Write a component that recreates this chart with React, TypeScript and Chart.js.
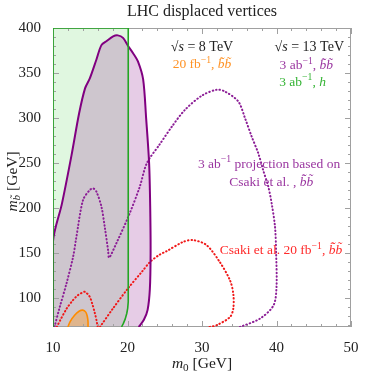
import React, { useEffect, useRef } from "react";
import { Chart, registerables } from "chart.js";

Chart.register(...registerables);

// ---------- data ----------
const xTicks = [10, 20, 30, 40, 50];
const yTicks = [100, 150, 200, 250, 300, 350, 400];

// 13 TeV, 3 ab^-1, h  (green region)
const greenX = [19.2, 19.45, 19.7, 19.9, 20.03, 20.1, 20.1, 10, 10];
const greenY = [68, 72, 77, 83, 89, 96, 400, 400, 68];

// 13 TeV, 3 ab^-1, bb (purple solid region)
const purpleX = [10, 10, 11.2, 12.47, 13.5, 14.3, 14.94, 15.83, 16.5, 17.2, 18.07, 18.7, 19.4, 20.08, 20.75, 21.4, 22.1, 22.5, 22.9, 23.05, 23.1, 23.0, 22.7, 22.2, 21.5];
const purpleY = [68, 163, 205, 258, 305, 333, 344, 365, 381, 385.5, 390.7, 391.8, 389, 380, 372, 363, 343, 300, 250, 200, 150, 110, 87, 76, 68];

// 8 TeV, 20 fb^-1, bb (orange region)
const orangeX = [12.0, 12.3, 12.9, 13.5, 14.0, 14.4, 14.6, 14.7, 14.7];
const orangeY = [68, 74, 81, 85.5, 86.7, 84.5, 80, 74, 68];

// Csaki et al. 20 fb^-1 (red dotted, two pieces)
const redSmallX = [10.5, 11.0, 11.8, 12.6, 13.3, 14.0, 14.3, 14.9, 15.3, 15.6, 15.85, 16.0];
const redSmallY = [68, 76, 88, 97, 103, 106.5, 107, 102, 93, 84, 75, 68];
const redBigX = [16.3, 18.0, 20.08, 22.0, 23.0, 24.25, 25.2, 27.5, 28.8, 30.6, 32.4, 33.75, 34.2, 34.2, 33.75, 31.96, 31.0];
const redBigY = [68, 88, 111, 130, 140, 148, 152, 162.6, 164.5, 159, 140, 120, 105, 88.5, 79, 70, 68];

// 3 ab^-1 projection based on Csaki et al. (purple dotted)
const projX = [10.2, 10.9, 11.8, 12.7, 13.1, 14.03, 14.93, 15.38, 15.83, 16.5, 16.95, 17.4, 17.53, 18.5, 20.2, 21.65, 22.6, 24.25, 26.0, 27.7, 30.0, 31.96, 33.08, 34.87, 35.77, 36.67, 37.55, 38.2, 38.9, 39.35, 39.8, 39.95, 40.0, 39.6, 37.8, 35.1];
const projY = [68, 90, 116, 146, 166, 209, 220, 222, 218.2, 201.6, 179, 153, 145, 160.9, 192.3, 223.8, 250, 270, 291, 309, 325, 331.4, 329.5, 318.4, 300, 279.4, 261, 242.4, 223.8, 205.3, 179.3, 150, 112.6, 92, 77.4, 68];

const COL_PURPLE = "#800080";
const COL_PURPLE_DOT = "#8c1e96";
const COL_GREEN = "#22a622";
const COL_ORANGE = "#ff8c00";
const COL_RED = "#f01818";

const FONT = '"Liberation Serif", "DejaVu Serif", serif';

const toPts = (xs: number[], ys: number[]) => xs.map((x, i) => ({ x, y: ys[i] }));

type Seg = { t: string; i?: boolean; sup?: boolean; sub?: boolean };
const BB = "b\u0303\u0304b\u0303";

// annotations (data coordinates)
const labels: { x: number; y: number; segs: Seg[]; color: string; size: number }[] = [
  { x: 30, y: 379, color: "#222", size: 14, segs: [{ t: "\u221A" }, { t: "s", i: true }, { t: " = 8 TeV" }] },
  { x: 30, y: 359, color: "#ff9326", size: 13.5, segs: [{ t: "20 fb" }, { t: "\u22121", sup: true }, { t: ", " }, { t: BB, i: true }] },
  { x: 44.4, y: 379, color: "#222", size: 14, segs: [{ t: "\u221A" }, { t: "s", i: true }, { t: " = 13 TeV" }] },
  { x: 44, y: 358, color: "#9a36a0", size: 13.5, segs: [{ t: "3 ab" }, { t: "\u22121", sup: true }, { t: ", " }, { t: BB, i: true }] },
  { x: 43.5, y: 340, color: "#33b333", size: 13.5, segs: [{ t: "3 ab" }, { t: "\u22121", sup: true }, { t: ", " }, { t: "h", i: true }] },
  { x: 39, y: 249, color: "#9a36a0", size: 13.5, segs: [{ t: "3 ab" }, { t: "\u22121", sup: true }, { t: " projection based on" }] },
  { x: 39.3, y: 229, color: "#9a36a0", size: 13.5, segs: [{ t: "Csaki et al. , " }, { t: BB, i: true }] },
  { x: 40.6, y: 153, color: "#ff2a2a", size: 13.5, segs: [{ t: "Csaki et al. 20 fb" }, { t: "\u22121", sup: true }, { t: ", " }, { t: BB, i: true }] },
];

const TITLE = "LHC displaced vertices";

function drawRich(ctx: CanvasRenderingContext2D, segs: Seg[], cx: number, cy: number, size: number, color: string) {
  const fontFor = (s: Seg) => `${s.i ? "italic " : ""}${s.sup || s.sub ? size * 0.72 : size}px ${FONT}`;
  let w = 0;
  segs.forEach((s) => {
    ctx.font = fontFor(s);
    w += ctx.measureText(s.t).width;
  });
  let x = cx - w / 2;
  ctx.fillStyle = color;
  ctx.textBaseline = "middle";
  ctx.textAlign = "left";
  segs.forEach((s) => {
    ctx.font = fontFor(s);
    const dy = s.sup ? -size * 0.33 : s.sub ? size * 0.28 : 0;
    ctx.fillText(s.t, x, cy + dy);
    x += ctx.measureText(s.t).width;
  });
}

const areaPlugin = {
  id: "areaFill",
  beforeDatasetsDraw(chart: any) {
    const ctx = chart.ctx as CanvasRenderingContext2D;
    const a = chart.chartArea;
    ctx.save();
    ctx.beginPath();
    ctx.rect(a.left, a.top, a.right - a.left, a.bottom - a.top);
    ctx.clip();
    chart.data.datasets.forEach((ds: any, i: number) => {
      if (!ds.areaColor) return;
      const meta = chart.getDatasetMeta(i);
      ctx.beginPath();
      if (meta.dataset && typeof meta.dataset.path === "function") {
        meta.dataset.path(ctx);
      } else {
        meta.data.forEach((p: any, j: number) => (j ? ctx.lineTo(p.x, p.y) : ctx.moveTo(p.x, p.y)));
      }
      ctx.closePath();
      ctx.fillStyle = ds.areaColor;
      ctx.fill();
    });
    ctx.restore();

    // frame + inward ticks
    const xs = chart.scales.x;
    const ys = chart.scales.y;
    ctx.save();
    ctx.strokeStyle = "#a0a0a0";
    ctx.lineWidth = 1;
    ctx.strokeRect(a.left + 0.5, a.top + 0.5, a.right - a.left - 1, a.bottom - a.top - 1);
    ctx.beginPath();
    for (let v = 10; v <= 50; v += 2) {
      const px = Math.round(xs.getPixelForValue(v)) + 0.5;
      const L = v % 10 === 0 ? 6 : 3;
      ctx.moveTo(px, a.bottom);
      ctx.lineTo(px, a.bottom - L);
      ctx.moveTo(px, a.top);
      ctx.lineTo(px, a.top + L);
    }
    for (let v = 70; v <= 400; v += 10) {
      const py = Math.round(ys.getPixelForValue(v)) + 0.5;
      const L = v % 50 === 0 ? 6 : 3;
      ctx.moveTo(a.left, py);
      ctx.lineTo(a.left + L, py);
      ctx.moveTo(a.right, py);
      ctx.lineTo(a.right - L, py);
    }
    ctx.stroke();
    ctx.restore();
  },
  afterDraw(chart: any) {
    const ctx = chart.ctx as CanvasRenderingContext2D;
    const xs = chart.scales.x;
    const ys = chart.scales.y;
    const a = chart.chartArea;
    ctx.save();
    labels.forEach((l) => drawRich(ctx, l.segs, xs.getPixelForValue(l.x), ys.getPixelForValue(l.y), l.size, l.color));
    // title
    drawRich(ctx, [{ t: TITLE }], (a.left + a.right) / 2, 12, 16, "#222");
    // x axis title
    drawRich(ctx, [{ t: "m", i: true }, { t: "0", sub: true }, { t: " [GeV]" }], (a.left + a.right) / 2, 364, 15.5, "#222");
    // y axis title
    ctx.translate(13, (a.top + a.bottom) / 2 + 4);
    ctx.rotate(-Math.PI / 2);
    drawRich(ctx, [{ t: "m", i: true }, { t: "b\u0303", sub: true, i: true }, { t: " [GeV]" }], 0, 0, 15.5, "#222");
    ctx.restore();
  },
};

export default function App() {
  const ref = useRef<HTMLCanvasElement>(null);
  useEffect(() => {
    if (!ref.current) return;
    const line = (pts: any, color: string, width: number, dash: number[] | undefined, area?: string, tension = 0.3) => ({
      data: pts,
      showLine: true,
      borderColor: color,
      borderWidth: width,
      borderDash: dash || [],
      borderCapStyle: dash ? "round" : "butt",
      borderJoinStyle: "round",
      pointRadius: 0,
      pointHoverRadius: 0,
      tension,
      fill: false,
      areaColor: area,
    });
    const chart = new Chart(ref.current, {
      type: "scatter",
      data: {
        datasets: [
          line(toPts(greenX, greenY), COL_GREEN, 1.6, undefined, "rgba(0,190,0,0.12)", 0),
          line(toPts(purpleX, purpleY), COL_PURPLE, 2, undefined, "rgba(128,0,128,0.2)"),
          line(toPts(orangeX, orangeY), COL_ORANGE, 1.6, undefined, "rgba(255,150,20,0.35)"),
          line(toPts(redSmallX, redSmallY), COL_RED, 2, [0.5, 3]),
          line(toPts(redBigX, redBigY), COL_RED, 2, [0.5, 3]),
          line(toPts(projX, projY), COL_PURPLE_DOT, 2, [0.5, 3]),
        ] as any,
      },
      options: {
        animation: false,
        responsive: false,
        maintainAspectRatio: false,
        layout: { padding: { top: 28, right: 23, left: 0, bottom: 0 } },
        plugins: { legend: { display: false }, tooltip: { enabled: false }, title: { display: false } },
        events: [],
        scales: {
          x: {
            type: "linear",
            min: 10,
            max: 50,
            grid: { display: false },
            border: { display: false },
            ticks: { color: "#222", font: { family: FONT, size: 15 }, padding: 4, maxRotation: 0 },
            afterBuildTicks: (s: any) => {
              s.ticks = xTicks.map((value) => ({ value }));
            },
            afterFit: (s: any) => {
              s.height = 51;
            },
          },
          y: {
            type: "linear",
            min: 68,
            max: 400,
            grid: { display: false },
            border: { display: false },
            ticks: { color: "#222", font: { family: FONT, size: 15 }, padding: 4 },
            afterBuildTicks: (s: any) => {
              s.ticks = yTicks.map((value) => ({ value }));
            },
            afterFit: (s: any) => {
              s.width = 53;
            },
          },
        },
      } as any,
      plugins: [areaPlugin],
    });
    return () => chart.destroy();
  }, []);
  return (
    <div style={{ position: "absolute", left: 0, top: 0, width: 374, height: 378, background: "#fff" }}>
      <canvas ref={ref} width={374} height={378} style={{ width: 374, height: 378, display: "block" }} />
    </div>
  );
}
